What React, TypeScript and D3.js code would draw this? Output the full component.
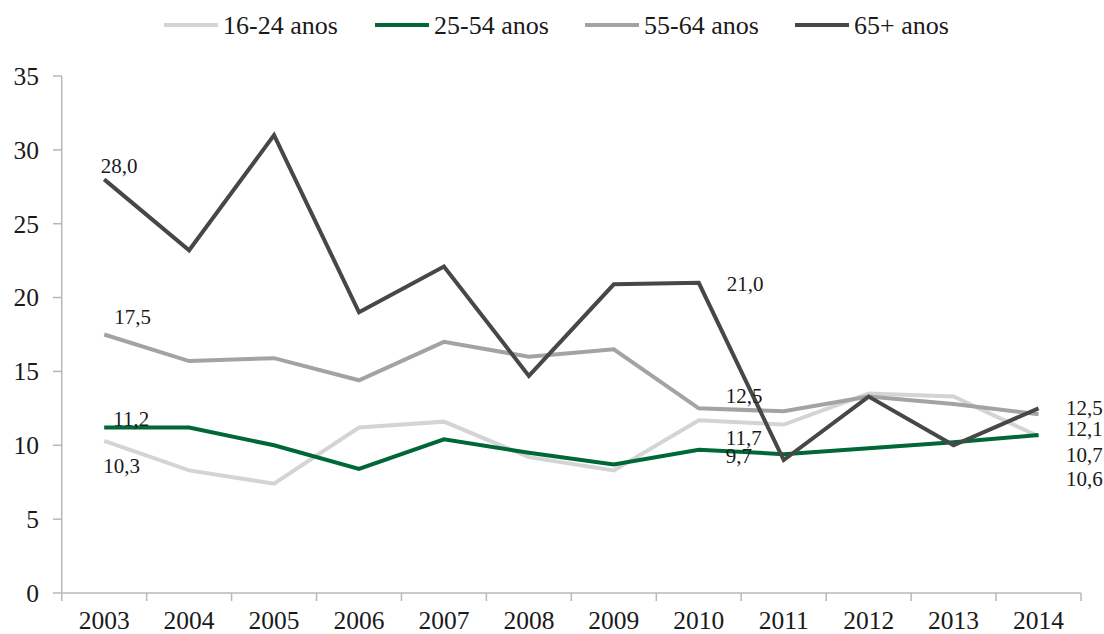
import React from "react";
import * as d3 from "d3";

const years = ["2003","2004","2005","2006","2007","2008","2009","2010","2011","2012","2013","2014"];
const s1624 = [10.3, 8.3, 7.4, 11.2, 11.6, 9.2, 8.3, 11.7, 11.4, 13.5, 13.3, 10.6];
const s2554 = [11.2, 11.2, 10.0, 8.4, 10.4, 9.5, 8.7, 9.7, 9.4, 9.8, 10.2, 10.7];
const s5564 = [17.5, 15.7, 15.9, 14.4, 17.0, 16.0, 16.5, 12.5, 12.3, 13.3, 12.8, 12.1];
const s65 = [28.0, 23.2, 31.0, 19.0, 22.1, 14.7, 20.9, 21.0, 9.0, 13.3, 10.0, 12.5];
const seriesNames = ["16-24 anos", "25-54 anos", "55-64 anos", "65+ anos"];
const seriesColors = ["#d4d4d4", "#006837", "#a3a3a3", "#474747"];
const yTicks = [0, 5, 10, 15, 20, 25, 30, 35];

// annotation: series index, point index, offsets
const annotations = [
  { s: 3, i: 0, dx: -3.5, dy: -6 },
  { s: 2, i: 0, dx: 10, dy: -11 },
  { s: 1, i: 0, dx: 9, dy: -1.6 },
  { s: 0, i: 0, dx: -1, dy: 32 },
  { s: 3, i: 7, dx: 28, dy: 8 },
  { s: 2, i: 7, dx: 27, dy: -5 },
  { s: 0, i: 7, dx: 27, dy: 25 },
  { s: 1, i: 7, dx: 27, dy: 13 },
  { s: 3, i: 11, dx: 27.5, dy: 7 },
  { s: 2, i: 11, dx: 27.5, dy: 22 },
  { s: 1, i: 11, dx: 27.5, dy: 27 },
  { s: 0, i: 11, dx: 27.5, dy: 50 },
];

export default function App() {
  const W = 1104, H = 634;
  const series = [s1624, s2554, s5564, s65];
  const x = d3.scaleBand<string>().domain(years).range([61.7, 1081]);
  const y = d3.scaleLinear().domain([0, 35]).range([593, 76]);
  const cx = (i: number) => (x(years[i]) as number) + x.bandwidth() / 2;
  const line = d3.line<number>().x((_, i) => cx(i)).y((d) => y(d));
  const font = "'Liberation Serif', 'Times New Roman', serif";
  const axisColor = "#b8b8b8";
  const legendX = [164, 375, 585, 795];
  const fmt = (v: number) => v.toFixed(1).replace(".", ",");

  return (
    <div style={{ position: "absolute", left: 0, top: 0 }}>
      <svg width={W} height={H} style={{ display: "block" }} fontFamily={font}>
        <rect width={W} height={H} fill="#fff" />
        {/* legend */}
        {seriesNames.map((n, k) => (
          <g key={n}>
            <line x1={legendX[k]} x2={legendX[k] + 54} y1={25} y2={25} stroke={seriesColors[k]} strokeWidth={4} />
            <text x={legendX[k] + 59} y={33.5} fontSize={26} fill="#1a1a1a">{n}</text>
          </g>
        ))}
        {/* y axis */}
        <line x1={61.7} x2={61.7} y1={y(35)} y2={601} stroke={axisColor} strokeWidth={1.5} />
        {yTicks.map((t) => (
          <g key={t}>
            <line x1={53} x2={61.7} y1={y(t)} y2={y(t)} stroke={axisColor} strokeWidth={1.5} />
            <text x={39} y={y(t) + 8.8} fontSize={25.5} textAnchor="end" fill="#1a1a1a">{t}</text>
          </g>
        ))}
        {/* x axis */}
        <line x1={61.7} x2={1081} y1={y(0)} y2={y(0)} stroke={axisColor} strokeWidth={1.5} />
        {years.map((yr, i) => (
          <g key={yr}>
            <line x1={(x(yr) as number) + x.bandwidth()} x2={(x(yr) as number) + x.bandwidth()} y1={y(0)} y2={601} stroke={axisColor} strokeWidth={1.5} />
            <text x={cx(i)} y={629} fontSize={25.5} textAnchor="middle" fill="#1a1a1a">{yr}</text>
          </g>
        ))}
        {/* lines */}
        {series.map((s, k) => (
          <path key={k} d={line(s) as string} fill="none" stroke={seriesColors[k]} strokeWidth={4} strokeLinejoin="miter" />
        ))}
        {/* labels */}
        {annotations.map((a, k) => (
          <text key={k} x={cx(a.i) + a.dx} y={y(series[a.s][a.i]) + a.dy} fontSize={21} fill="#1a1a1a">
            {fmt(series[a.s][a.i])}
          </text>
        ))}
      </svg>
    </div>
  );
}
